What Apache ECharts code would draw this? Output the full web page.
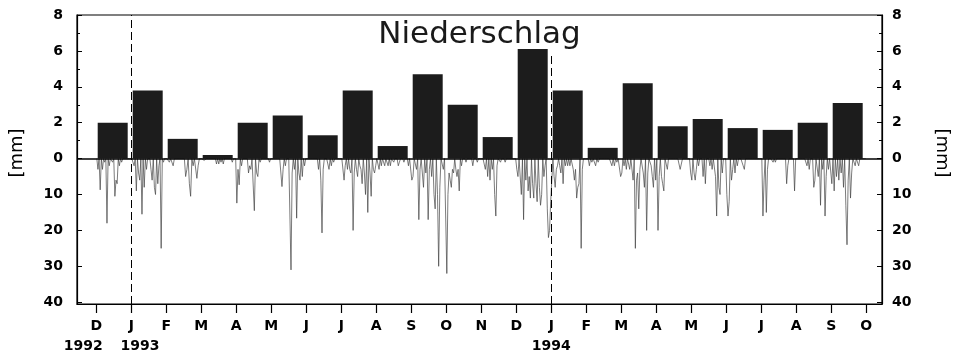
<!DOCTYPE html>
<html>
<head>
<meta charset="utf-8">
<script src="https://cdn.jsdelivr.net/npm/echarts@6/dist/echarts.min.js"></script>
<style>
    html, body { margin: 0; background: #fff; }
    #chart { width: 959px; height: 360px; }
</style>
</head>
<body>
<div id="chart"></div>
<script>
// month letters at the month starts, Dec 1992 .. Oct 1994
const monthLetters = ['D', 'J', 'F', 'M', 'A', 'M', 'J', 'J', 'A', 'S', 'O', 'N', 'D', 'J', 'F', 'M', 'A', 'M', 'J', 'J', 'A', 'S', 'O'];
// year labels and where they sit along the month axis (1992/1993 pushed apart as in the original)
const yearNames = ['1992', '1993', '1994'];
const yearTicks = [-0.37, 1.25, 13];
const yTicks = [-8, -6, -4, -2, 0, 2, 4, 6, 8];

// monthly mean precipitation [mm/day], Dec 1992 .. Sep 1994
const monthlyMean = [2.0, 3.8, 1.1, 0.2, 2.0, 2.4, 1.3, 3.8, 0.7, 4.7, 3.0, 1.2, 6.1, 3.8, 0.6, 4.2, 1.8, 2.2, 1.7, 1.6, 2.0, 3.1];

// daily precipitation [day, mm] (days not listed: no rain)
const rainDec92 = [[2, 3], [4, 8.7], [6, 3], [8, 1], [10, 18], [12, 2], [15, 1], [17, 10.5], [18, 6], [19, 7], [21, 2], [23, 1]];
const rainJan93 = [[3, 2], [5, 9], [7, 4], [8, 6], [10, 15.5], [12, 8], [14, 3], [18, 3], [19, 6], [21, 8], [22, 10], [24, 7], [25, 2], [27, 25], [29, 1]];
const rainFeb93 = [[3, 1], [6, 2], [16, 5], [17, 3], [19, 7], [20, 10.5], [22, 2], [25, 5.5], [26, 2]];
const rainMar93 = [[3, 0.5], [14, 1.5], [16, 1.5], [18, 1], [20, 1.5], [24, 0.5], [28, 1]];
const rainApr93 = [[1, 12.4], [2, 3], [3, 7.3], [5, 2], [11, 4], [12, 2], [13, 3], [16, 14.5], [18, 4], [19, 5], [21, 1], [29, 1]];
const rainMay93 = [[10, 7.8], [11, 3], [13, 2], [18, 31], [19, 4], [21, 3], [23, 16.6], [25, 4], [26, 6], [28, 5], [30, 2]];
const rainJun93 = [[11, 3], [13, 6], [14, 20.7], [15, 3], [20, 3], [22, 2], [24, 1]];
const rainJul93 = [[3, 6], [4, 2], [6, 3], [8, 3], [9, 4], [11, 20], [12, 4], [14, 3], [15, 5], [17, 2], [18, 3], [19, 7], [21, 4], [22, 10], [24, 15], [26, 4], [27, 10.5], [29, 3], [30, 4], [31, 2]];
const rainAug93 = [[3, 3], [5, 2], [8, 2], [11, 2], [13, 2], [16, 1], [20, 2], [21, 1], [25, 1], [29, 2]];
const rainSep93 = [[1, 6], [2, 5], [5, 3], [7, 17], [8, 3], [11, 8], [13, 4], [15, 17], [16, 3], [18, 5], [20, 10], [21, 14], [23, 10], [24, 30], [25, 8], [28, 3]];
const rainOct93 = [[1, 32], [2, 10], [3, 4], [4, 6], [5, 8], [6, 3], [7, 4], [9, 3], [10, 5], [11, 3], [12, 9], [14, 2], [18, 1], [24, 2], [28, 1]];
const rainNov93 = [[4, 3], [6, 5], [8, 6], [10, 3], [12, 10], [13, 16], [14, 2], [17, 1], [21, 1]];
const rainDec93 = [[1, 3], [2, 5], [5, 10], [7, 17], [9, 6], [11, 9], [12, 5], [13, 11], [15, 7], [16, 11], [18, 7], [19, 12], [21, 8], [22, 13], [23, 10], [25, 5], [26, 2], [28, 14], [29, 22], [30, 20], [31, 12]];
const rainJan94 = [[1, 12], [3, 5], [4, 8], [5, 3], [6, 2], [8, 2], [9, 4], [11, 7], [13, 2], [15, 2], [17, 2], [20, 3], [21, 6], [22, 3], [23, 11], [24, 8], [25, 7], [27, 25], [28, 3]];
const rainFeb94 = [[3, 2], [5, 1], [8, 2], [10, 1], [21, 2], [23, 2], [25, 1], [28, 5]];
const rainMar94 = [[1, 4], [3, 2], [5, 3], [8, 3], [11, 6], [13, 25], [14, 6], [15, 4], [16, 14], [17, 3], [20, 4], [21, 8], [23, 20], [24, 4], [27, 2], [28, 5], [29, 8], [31, 6]];
const rainApr94 = [[2, 20], [3, 5], [5, 5], [6, 7], [7, 9], [10, 3], [21, 3], [22, 3], [30, 4]];
const rainMay94 = [[1, 6], [3, 4], [4, 6], [5, 3], [7, 2], [11, 5], [13, 7], [17, 2], [19, 3], [22, 5], [23, 16], [25, 8], [26, 10], [28, 4]];
const rainJun94 = [[1, 10], [2, 16], [3, 12], [5, 6], [6, 3], [8, 4], [10, 2], [15, 2], [16, 3]];
const rainJul94 = [[2, 16], [3, 6], [5, 15], [6, 3], [11, 1], [13, 1], [23, 7], [24, 2], [30, 9]];
const rainAug94 = [[10, 2], [12, 3], [16, 8], [17, 6], [20, 5], [22, 13], [24, 3], [26, 16], [27, 5], [29, 3]];
const rainSep94 = [[1, 7], [3, 9], [5, 5], [7, 6], [9, 4], [11, 8], [13, 13], [14, 24], [15, 6], [17, 11], [18, 4], [21, 2], [24, 2]];

const dailyRain = [rainDec92, rainJan93, rainFeb93, rainMar93, rainApr93, rainMay93, rainJun93, rainJul93, rainAug93, rainSep93, rainOct93, rainNov93,
    rainDec93, rainJan94, rainFeb94, rainMar94, rainApr94, rainMay94, rainJun94, rainJul94, rainAug94, rainSep94];

// x is in months from 1 Dec 1992; below zero the axis counts 5 mm per unit
const DOWN = 5;
const monthTicks = monthLetters.map((_, i) => i);

const barData = monthlyMean.map((v, i) => [i + 0.47, v]);

const lineData = [];
dailyRain.forEach((month, m) => {
    const n = new Date(1992, 12 + m, 0).getDate();
    const byDay = {};
    month.forEach(([d, v]) => { byDay[d] = v });
    for (let d = 1; d <= n; d++) {
        lineData.push([m + (d - 0.5) / n, -(byDay[d] || 0) / DOWN]);
    }
});

const font = 'DejaVu Sans';
const labelStyle = { color: '#000', fontFamily: font, fontWeight: 'bold', fontSize: 14 };

function yAxisMain(position) {
    return {
        type: 'value',
        position: position,
        min: -8.1,
        max: 8,
        axisLine: { show: true, onZero: false, lineStyle: { color: '#000', width: 1.2 } },
        axisTick: { show: true, inside: true, length: 5, customValues: yTicks, lineStyle: { color: '#000' } },
        axisLabel: Object.assign({
            customValues: yTicks,
            margin: position === 'left' ? 14 : 10,
            formatter: v => v >= 0 ? String(v) : String(Math.round(-v * DOWN))
        }, labelStyle),
        splitLine: { show: false }
    }
}

function yAxisMinor(position) {
    return {
        type: 'value',
        position: position,
        min: -8.1,
        max: 8,
        axisLine: { show: false, onZero: false },
        axisTick: { show: true, inside: true, length: 3, customValues: [1, 3, 5, 7], lineStyle: { color: '#000' } },
        axisLabel: { show: false },
        splitLine: { show: false }
    }
}

const chart = echarts.init(document.getElementById('chart'));

chart.setOption({
    animation: false,
    backgroundColor: '#fff',
    title: {
        text: 'Niederschlag',
        left: 'center',
        top: 14,
        textStyle: { fontFamily: font, fontSize: 31, fontWeight: 'normal', color: '#1a1a1a' }
    },
    grid: { left: 77, right: 77, top: 15, bottom: 56, show: true, borderColor: '#000', borderWidth: 1.2 },
    xAxis: [
        {
            type: 'value',
            min: -0.55,
            max: 22.45,
            axisLine: { onZero: false, lineStyle: { color: '#000', width: 1.2 } },
            axisTick: { customValues: monthTicks, length: 9, lineStyle: { color: '#000', width: 1.2 } },
            axisLabel: Object.assign({
                customValues: monthTicks,
                showMinLabel: true,
                showMaxLabel: true,
                margin: 15,
                formatter: v => monthLetters[v]
            }, labelStyle),
            splitLine: { show: false }
        },
        {
            type: 'value',
            position: 'bottom',
            min: -0.55,
            max: 22.45,
            axisLine: { show: false, onZero: false },
            axisTick: { show: false },
            axisLabel: Object.assign({
                customValues: yearTicks,
                showMinLabel: true,
                margin: 35,
                formatter: v => yearNames[yearTicks.indexOf(v)]
            }, labelStyle),
            splitLine: { show: false }
        }
    ],
    yAxis: [yAxisMain('left'), yAxisMain('right'), yAxisMinor('left'), yAxisMinor('right')],
    graphic: [
        {
            type: 'text', x: 17, y: 153, rotation: Math.PI / 2,
            style: { text: '[mm]', font: '18px "DejaVu Sans"', fill: '#000', align: 'center', verticalAlign: 'middle' }
        },
        {
            type: 'text', x: 942, y: 153, rotation: -Math.PI / 2,
            style: { text: '[mm]', font: '18px "DejaVu Sans"', fill: '#000', align: 'center', verticalAlign: 'middle' }
        }
    ],
    series: [
        {
            name: 'Monatsmittel',
            type: 'bar',
            data: barData,
            barWidth: 30,
            itemStyle: { color: '#1c1c1c' },
            markLine: {
                silent: true,
                symbol: ['none', 'none'],
                label: { show: false },
                data: [
                    { yAxis: 0, lineStyle: { color: '#000', width: 1.5, type: 'solid' } },
                    { xAxis: 1, lineStyle: { color: '#000', width: 1, type: [8, 4] } },
                    [
                        { coord: [13, -8.1], lineStyle: { color: '#000', width: 1, type: [8, 4] } },
                        { coord: [13, 5.8] }
                    ]
                ]
            }
        },
        {
            name: 'Tageswerte',
            type: 'line',
            data: lineData,
            showSymbol: false,
            lineStyle: { color: '#444', width: 0.7 },
            z: 3
        }
    ]
})
</script>
</body>
</html>
